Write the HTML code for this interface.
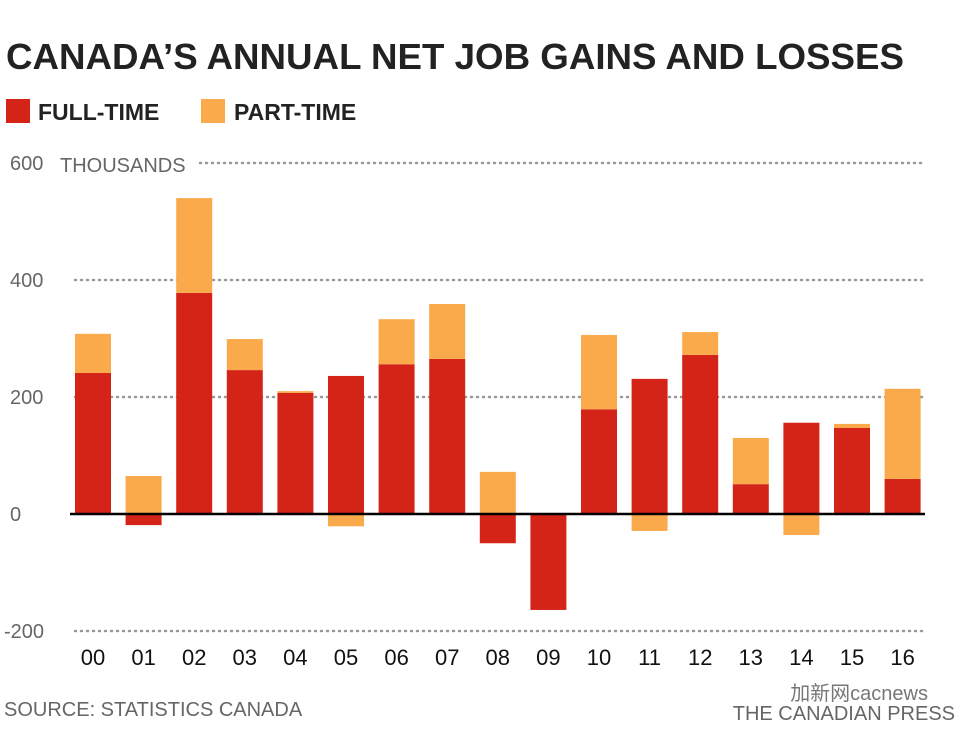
<!DOCTYPE html>
<html><head><meta charset="utf-8"><style>
body{margin:0;background:#fff;width:960px;height:736px;overflow:hidden;font-family:"Liberation Sans",sans-serif}
</style></head><body>
<svg width="960" height="736">
<text x="6" y="69" font-size="36" font-weight="bold" fill="#222" textLength="898" lengthAdjust="spacingAndGlyphs">CANADA’S ANNUAL NET JOB GAINS AND LOSSES</text>
<g>
<rect x="6" y="99" width="24" height="24" fill="#d42418"/>
<text x="38" y="120" font-size="23" font-weight="bold" fill="#222">FULL-TIME</text>
<rect x="201" y="99" width="24" height="24" fill="#fbaa4b"/>
<text x="234" y="120" font-size="23" font-weight="bold" fill="#222">PART-TIME</text>
</g>
<g id="grid"></g>
<g id="bars"></g>
<g id="labels"></g>
<text x="60" y="172" font-size="20" fill="#666">THOUSANDS</text>
<text x="4" y="716" font-size="20" fill="#666">SOURCE: STATISTICS CANADA</text>
<text x="955" y="720" font-size="20" fill="#666" text-anchor="end">THE CANADIAN PRESS</text>
<text x="928" y="700" font-size="20" fill="#777" text-anchor="end" font-family="'Liberation Sans','Noto Sans CJK SC',sans-serif">加新网cacnews</text>
</svg>
<script>
const categories=["00","01","02","03","04","05","06","07","08","09","10","11","12","13","14","15","16"];
const fullTime=[241,-19,378,246,207,236,256,265,-50,-164,179,231,272,51,156,147,60];
const partTime=[67,65,162,53,3,-21,77,94,72,0,127,-29,39,79,-36,7,154];
const yTicks=[600,400,200,0,-200];
const NS="http://www.w3.org/2000/svg";
function y(v){return 514-v*0.585;}
function x(i){return 75+i*50.6;}
const bw=36;
const grid=document.getElementById('grid'),bars=document.getElementById('bars'),labels=document.getElementById('labels');
yTicks.forEach(t=>{
  const l=document.createElementNS(NS,'line');
  
  
  l.setAttribute('x1',t===600?200:75);l.setAttribute('x2',922);
  l.setAttribute('y1',y(t));l.setAttribute('y2',y(t));
  if(t===0){l.setAttribute('stroke','#000');l.setAttribute('stroke-width','2.5');l.setAttribute('x1',70);l.setAttribute('x2',925);}
  else{l.setAttribute('stroke','#999');l.setAttribute('stroke-width','2.5');l.setAttribute('stroke-dasharray','1 5');l.setAttribute('stroke-linecap','round');}
  grid.appendChild(l);
  const tx=document.createElementNS(NS,'text');
  
  
  tx.setAttribute('x',t<0?4:10);tx.setAttribute('y',y(t)+7);
  tx.setAttribute('font-size','20');tx.setAttribute('fill','#666');
  tx.textContent=t;grid.appendChild(tx);
});
function rect(i,a,b,c,n){
  const r=document.createElementNS(NS,'rect');
  
  
  r.setAttribute('x',x(i));r.setAttribute('width',bw);
  r.setAttribute('y',Math.min(y(a),y(b)));r.setAttribute('height',Math.abs(y(a)-y(b)));
  r.setAttribute('fill',c);bars.appendChild(r);
}
categories.forEach((c,i)=>{
  let pos=0,neg=0;
  [[fullTime[i],'#d42418','bar-full-time-'+c],[partTime[i],'#fbaa4b','bar-part-time-'+c]].forEach(([v,col,n])=>{
    if(v>=0){rect(i,pos,pos+v,col,n);pos+=v;}else{rect(i,neg,neg+v,col,n);neg+=v;}
  });
  const t=document.createElementNS(NS,'text');
  
  
  t.setAttribute('x',x(i)+bw/2);t.setAttribute('y',665);
  t.setAttribute('text-anchor','middle');t.setAttribute('font-size','22');t.setAttribute('fill','#111');
  t.textContent=c;labels.appendChild(t);
});
bars.parentNode.insertBefore(bars,grid.nextSibling);
grid.parentNode.appendChild(grid.querySelector('line[stroke="#000"]'));
</script>
</body></html>
